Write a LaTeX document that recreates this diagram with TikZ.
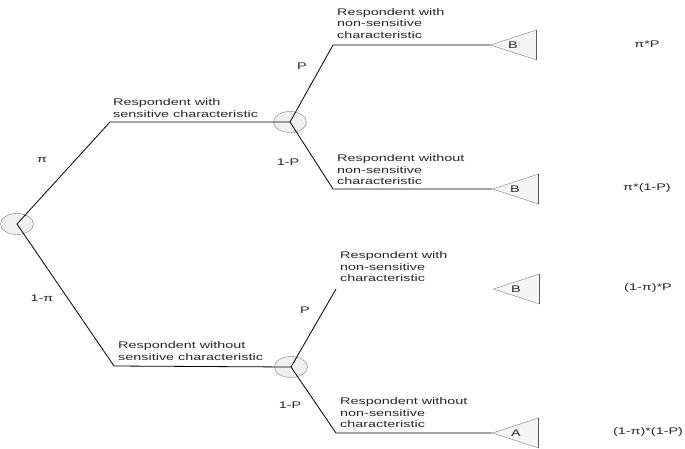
\documentclass[tikz,border=0pt]{standalone}
\usepackage{fontspec}
\newfontfamily\treefont[FakeStretch=1.5]{Liberation Sans}
\usepackage{tikz}
\usetikzlibrary{shapes.geometric}

\begin{document}
\begin{tikzpicture}[
  x=1pt, y=-1pt,
  font=\treefont\fontsize{9.6}{11.5}\selectfont,
  chance/.style={draw=gray, ellipse, fill=gray!12, minimum width=33pt, minimum height=21pt, inner sep=0pt},
  payoff/.style={draw=gray, fill=gray!8, isosceles triangle, shape border rotate=180, isosceles triangle stretches, minimum width=30pt, minimum height=46pt, inner sep=0pt, anchor=apex},
  desc/.style={align=left, anchor=west, inner sep=0pt, text=black!85},
  prob/.style={inner sep=0pt, text=black!85},
  branch/.style={draw, line width=0.8pt}
]
\useasboundingbox (0,0) rectangle (685,448);

% Chance nodes
\node[chance] (root) at (17,224) {};
\node[chance] (up) at (290,122) {};
\node[chance] (lo) at (291,367) {};

% End triangles
\node[payoff] (t1) at (490,45) {};
\node[payoff] (t2) at (492,189) {};
\node[payoff] (t3) at (493,289) {};
\node[payoff] (t4) at (492,433) {};
\foreach \t in {t1,t2,t3,t4}
  \draw[gray!70!black, line width=1.1pt] (\t.left corner) -- (\t.right corner);
\node[prob] (b1) at ([xshift=23pt]t1.apex) {B};
\node[prob] (b2) at ([xshift=23pt]t2.apex) {B};
\node[prob] (b3) at ([xshift=23pt]t3.apex) {B};
\node[prob] (a4) at ([xshift=24pt]t4.apex) {A};

% Bends
\coordinate (r1) at (110,122);
\coordinate (r2) at (114,366);
\coordinate (u1) at (333,45);
\coordinate (u2) at (333,189);
\coordinate (l1) at (336,289);
\coordinate (l2) at (336,433);

% Branches
\draw[branch] (root.center) -- (r1) -- (up.center);
\draw[branch] (root.center) -- (r2) -- (lo.center);
\draw[branch] (up.center) -- (u1) -- (t1.apex);
\draw[branch] (up.center) -- (u2) -- (t2.apex);
\draw[branch] (lo.center) -- (l1);
\draw[branch] (lo.center) -- (l2) -- (t4.apex);

% Branch texts
\node[desc] (s1) at (113,108) {Respondent with\\sensitive characteristic};
\node[desc] (s2) at (118,351) {Respondent without\\sensitive characteristic};
\node[desc] (n1) at (337,23.5) {Respondent with\\non-sensitive\\characteristic};
\node[desc] (n2) at (337,170) {Respondent without\\non-sensitive\\characteristic};
\node[desc] (n3) at (340,267) {Respondent with\\non-sensitive\\characteristic};
\node[desc] (n4) at (340,413) {Respondent without\\non-sensitive\\characteristic};

% Probabilities
\node[prob] (p1) at (42,160) {π};
\node[prob] (p2) at (42,298) {1-π};
\node[prob] (p3) at (302,66) {P};
\node[prob] (p4) at (288,162) {1-P};
\node[prob] (p5) at (305,310) {P};
\node[prob] (p6) at (290,405) {1-P};

% Outcomes
\node[prob] (o1) at (647,44) {π*P};
\node[prob] (o2) at (647,188) {π*(1-P)};
\node[prob] (o3) at (648,288) {(1-π)*P};
\node[prob] (o4) at (648,432) {(1-π)*(1-P)};
\end{tikzpicture}
\end{document}
